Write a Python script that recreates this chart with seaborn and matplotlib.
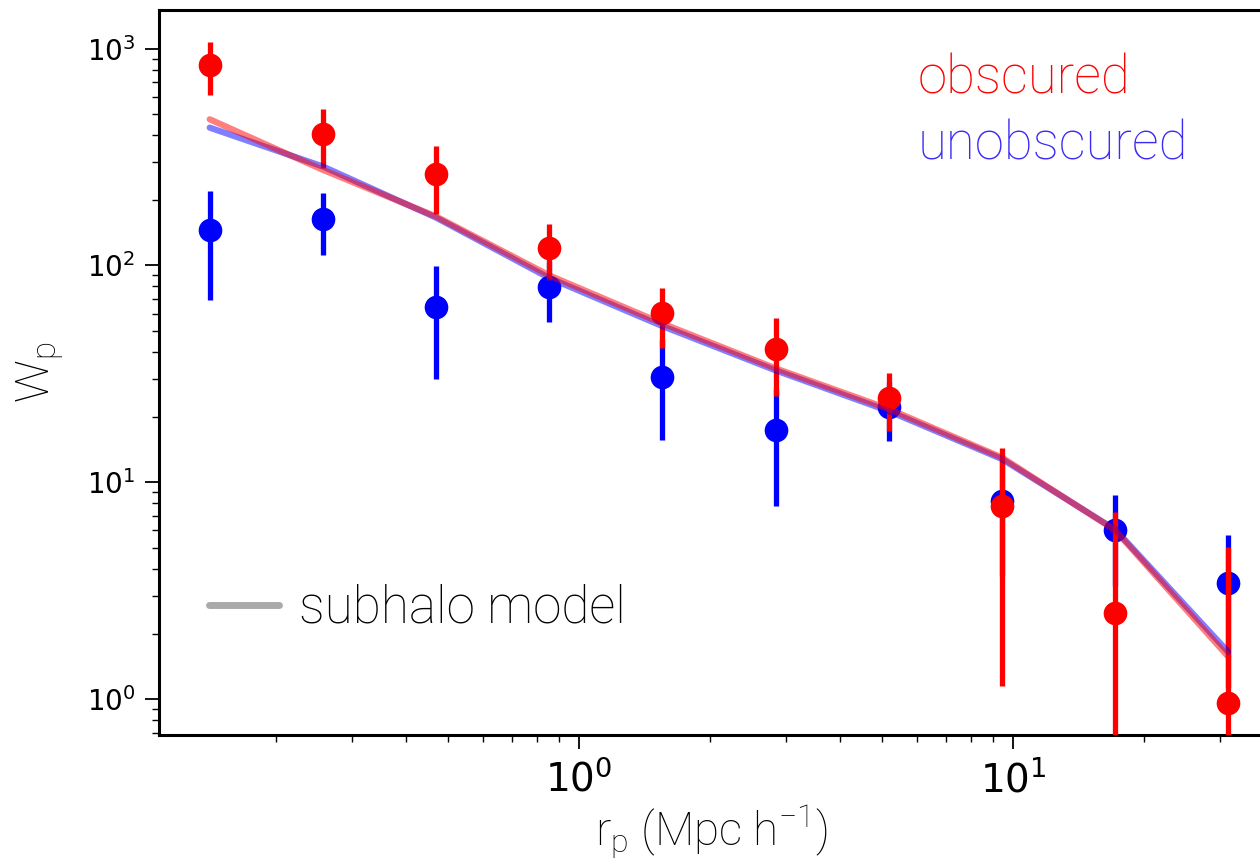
import matplotlib
matplotlib.use("Agg")
import matplotlib.pyplot as plt
import seaborn as sns
import pandas as pd
from matplotlib.lines import Line2D

# projected separation bins (Mpc/h)
rp = [0.141, 0.257, 0.469, 0.854, 1.557, 2.84, 5.17, 9.43, 17.2, 31.3]

# obscured sample
wp_obs = [840, 404, 264, 121, 60.1, 41.0, 24.5, 7.75, 2.50, 0.965]
err_obs = [230, 124, 91, 35, 18.3, 16.0, 7.3, 6.6, 4.8, 4.05]

# unobscured sample
wp_unobs = [145.6, 163.7, 64.5, 79.8, 30.5, 17.4, 22.3, 8.19, 6.02, 3.42]
err_unobs = [76, 52, 34.6, 25, 14.8, 9.6, 6.8, 4.5, 2.7, 2.3]

# subhalo model curves
model_obs = [472, 276, 168, 90, 54, 33.5, 21.8, 13.0, 6.0, 1.57]
model_unobs = [432, 286, 166, 87.5, 52.5, 32.8, 21.3, 12.8, 6.05, 1.65]

df = pd.DataFrame({"rp": rp, "wp_obs": wp_obs, "wp_unobs": wp_unobs,
                   "model_obs": model_obs, "model_unobs": model_unobs})

sns.set_style("ticks")
plt.rcParams["font.family"] = ["DejaVu Sans"]
plt.rcParams["mathtext.fontset"] = "custom"
plt.rcParams["mathtext.rm"] = "Liberation Sans Narrow"
plt.rcParams["mathtext.it"] = "Liberation Sans Narrow"
for key in ["text.color", "axes.labelcolor", "xtick.color", "ytick.color", "axes.edgecolor"]:
    plt.rcParams[key] = "black"

thin = {"family": ["Roboto", "DejaVu Sans"], "weight": "light"}

fig = plt.figure(figsize=(12.6, 8.67), dpi=100)
ax = fig.add_axes([0.126, 0.152, 0.877, 0.837])

# data points with error bars
ax.errorbar(rp, wp_unobs, yerr=err_unobs, fmt="none", ecolor="blue", elinewidth=3.8, zorder=2)
sns.scatterplot(data=df, x="rp", y="wp_unobs", color="blue", s=290, linewidth=0, ax=ax, zorder=3)
ax.errorbar(rp, wp_obs, yerr=err_obs, fmt="none", ecolor="red", elinewidth=3.8, zorder=4)
sns.scatterplot(data=df, x="rp", y="wp_obs", color="red", s=290, linewidth=0, ax=ax, zorder=5)

# model lines
sns.lineplot(data=df, x="rp", y="model_unobs", color="blue", alpha=0.5, linewidth=4.5, ax=ax, zorder=6)
sns.lineplot(data=df, x="rp", y="model_obs", color="red", alpha=0.5, linewidth=4.5, ax=ax, zorder=7)

ax.set_xscale("log")
ax.set_yscale("log")
ax.set_xlim(0.1076, 37.8)
ax.set_ylim(0.682, 1514)

for s in ax.spines.values():
    s.set_linewidth(2.2)
ax.tick_params(which="major", length=10, width=1.3, direction="out")
ax.tick_params(which="minor", length=5, width=1.0, direction="out")
ax.tick_params(axis="y", labelsize=20, pad=7)
ax.tick_params(axis="x", labelsize=28, pad=8)
for lab in ax.get_yticklabels():
    lab.set_math_fontfamily("dejavusans")

ax.set_xlabel(r"r$_\mathregular{p}$ (Mpc h$^\mathregular{-1}$)", fontsize=33, labelpad=2, **thin)
ax.set_ylabel(r"W$_\mathregular{p}$", fontsize=34, labelpad=14, **thin)

ax.text(0.687, 0.905, "obscured", color="red", fontsize=38, transform=ax.transAxes, va="center", **thin)
ax.text(0.687, 0.813, "unobscured", color="#3b2bf5", fontsize=38, transform=ax.transAxes, va="center", **thin)

handle = Line2D([], [], color="#aaaaaa", linewidth=5)
ax.legend([handle], ["subhalo model"], loc="lower left", bbox_to_anchor=(0.004, 0.076),
          frameon=False, handlelength=1.35, handletextpad=0.4, prop={"size": 37, **thin})

fig.savefig("out.png", dpi=100)
